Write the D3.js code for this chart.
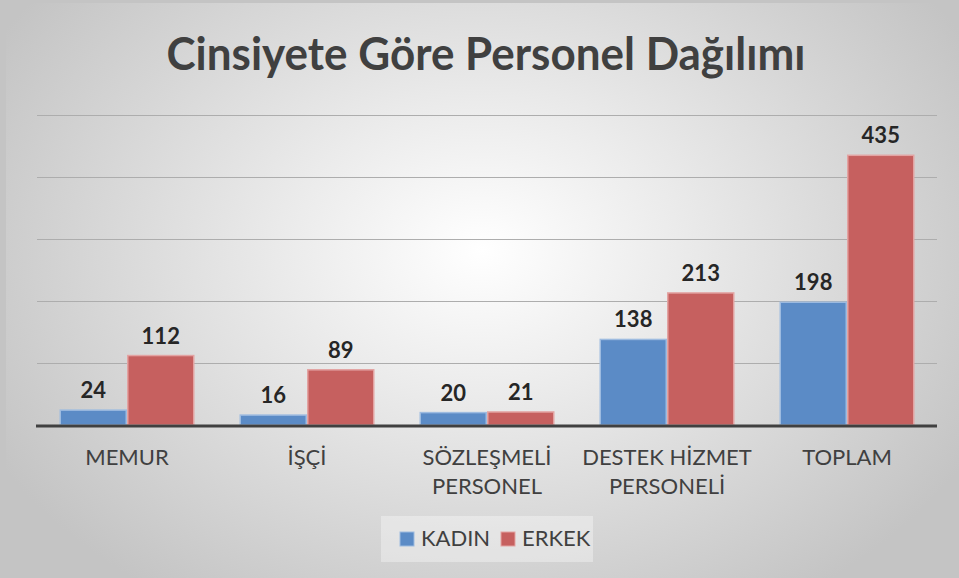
<!DOCTYPE html>
<html lang="tr">
<head>
<meta charset="utf-8">
<title>Cinsiyete Göre Personel Dağılımı</title>
<script src="https://d3js.org/d3.v7.min.js"></script>
<style>
  html, body { margin: 0; padding: 0; background: #ffffff; }
  svg { display: block; font-family: Lato, "Open Sans", sans-serif; }
</style>
</head>
<body>
<div id="chart"></div>
<script>
// data
var categories = [["MEMUR"], ["İŞÇİ"], ["SÖZLEŞMELİ", "PERSONEL"], ["DESTEK HİZMET", "PERSONELİ"], ["TOPLAM"]];
var seriesNames = ["KADIN", "ERKEK"];
var kadin = [24, 16, 20, 138, 198];
var erkek = [112, 89, 21, 213, 435];
var yTicks = [0, 100, 200, 300, 400, 500];

var w = 959, h = 578;
var plot = {left: 37, right: 937, top: 115, bottom: 425};
var fills = ["#5b8bc6", "#c6605f"];
var strokes = ["#9dbbe0", "#e3a3a2"];

var svg = d3.select("#chart").append("svg")
  .attr("width", w)
  .attr("height", h);

var defs = svg.append("defs");
var grad = defs.append("radialGradient")
  .attr("id", "bg")
  .attr("gradientUnits", "userSpaceOnUse")
  .attr("cx", 482).attr("cy", 250).attr("r", 560)
  .attr("gradientTransform", "translate(482,250) scale(1,0.75) translate(-482,-250)");
grad.append("stop").attr("offset", "0").attr("stop-color", "#ffffff");
grad.append("stop").attr("offset", "0.35").attr("stop-color", "#ebebeb");
grad.append("stop").attr("offset", "1").attr("stop-color", "#c4c4c4");

// frame + background
svg.append("rect").attr("x", 0).attr("y", 0).attr("width", w).attr("height", h).attr("fill", "#c4c4c4");
svg.append("rect").attr("x", 6).attr("y", 3).attr("width", w - 6).attr("height", h - 3).attr("fill", "url(#bg)");

// title
svg.append("text")
  .attr("x", 486).attr("y", 70)
  .attr("text-anchor", "middle")
  .attr("font-size", 46)
  .attr("font-weight", "bold")
  .attr("fill", "#404040")
  .attr("textLength", 639)
  .attr("lengthAdjust", "spacingAndGlyphs")
  .text("Cinsiyete Göre Personel Dağılımı");

var y = d3.scaleLinear().domain([0, 500]).range([plot.bottom, plot.top]);
var x0 = d3.scaleBand()
  .domain(d3.range(categories.length))
  .range([plot.left, plot.right])
  .paddingInner(0.25)
  .paddingOuter(0.125);
var x1 = d3.scaleBand().domain(d3.range(seriesNames.length)).range([0, x0.bandwidth()]);

// gridlines
svg.append("g").selectAll("line")
  .data(yTicks.slice(1))
  .enter().append("line")
    .attr("x1", plot.left).attr("x2", plot.right)
    .attr("y1", function(d) { return Math.round(y(d)) + 0.5; })
    .attr("y2", function(d) { return Math.round(y(d)) + 0.5; })
    .attr("stroke", "#adadad")
    .attr("stroke-width", 1);

var rows = categories.map(function(c, i) { return [kadin[i], erkek[i]]; });

var groups = svg.append("g").selectAll("g")
  .data(rows)
  .enter().append("g")
    .attr("transform", function(d, i) { return "translate(" + x0(i) + ",0)"; });

groups.selectAll("rect")
  .data(function(d) { return d; })
  .enter().append("rect")
    .attr("x", function(d, j) { return x1(j) + 0.75; })
    .attr("y", function(d) { return y(d); })
    .attr("width", x1.bandwidth() - 1.5)
    .attr("height", function(d) { return y(0) - y(d); })
    .attr("fill", function(d, j) { return fills[j]; })
    .attr("stroke", function(d, j) { return strokes[j]; })
    .attr("stroke-width", 1.5);

groups.selectAll("text")
  .data(function(d) { return d; })
  .enter().append("text")
    .attr("x", function(d, j) { return x1(j) + x1.bandwidth() / 2; })
    .attr("y", function(d) { return y(d) - 12; })
    .attr("text-anchor", "middle")
    .attr("font-size", 22)
    .attr("font-weight", "bold")
    .attr("fill", "#262626")
    .text(function(d) { return d; });

// baseline
svg.append("line")
  .attr("x1", plot.left - 1).attr("x2", plot.right)
  .attr("y1", y(0) + 1).attr("y2", y(0) + 1)
  .attr("stroke", "#404040")
  .attr("stroke-width", 3);

// category labels
var xAxis = svg.append("g");
categories.forEach(function(lines, i) {
  var t = xAxis.append("text")
    .attr("x", x0(i) + x0.bandwidth() / 2)
    .attr("y", 465)
    .attr("text-anchor", "middle")
    .attr("font-size", 22)
    .attr("fill", "#404040");
  lines.forEach(function(s, k) {
    t.append("tspan")
      .attr("x", x0(i) + x0.bandwidth() / 2)
      .attr("y", 465 + k * 29)
      .text(s);
  });
});

// legend
var legend = svg.append("g");
legend.append("rect")
  .attr("x", 381).attr("y", 516).attr("width", 212).attr("height", 46)
  .attr("fill", "#ffffff").attr("fill-opacity", 0.35);
var legX = [400, 501];
seriesNames.forEach(function(name, j) {
  legend.append("rect")
    .attr("x", legX[j]).attr("y", 532).attr("width", 14).attr("height", 14)
    .attr("fill", fills[j]).attr("stroke", strokes[j]).attr("stroke-width", 1);
  legend.append("text")
    .attr("x", legX[j] + 21).attr("y", 546)
    .attr("font-size", 22)
    .attr("fill", "#404040")
    .text(name);
});
</script>
</body>
</html>
